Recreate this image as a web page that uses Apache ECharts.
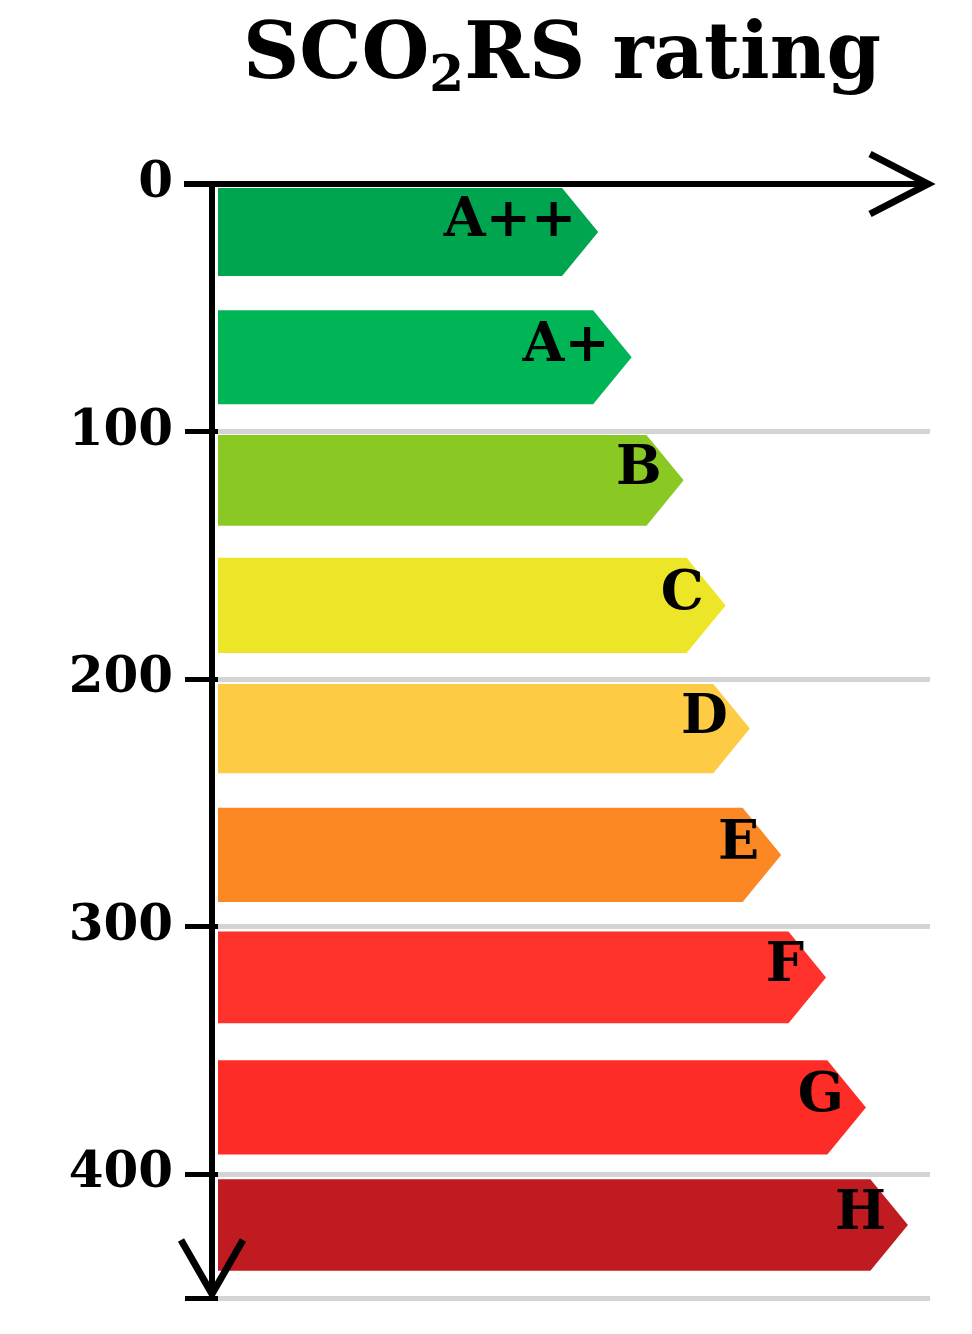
<!DOCTYPE html>
<html>
<head>
<meta charset="utf-8">
<script src="https://cdn.jsdelivr.net/npm/echarts@6/dist/echarts.min.js"></script>
<style>html,body{margin:0;padding:0;background:#fff}#main{width:972px;height:1334px}</style>
</head>
<body>
<div id="main"></div>
<script>
// rating classes, band start/end on the axis and arrow tip length
var classes = ['A++', 'A+', 'B', 'C', 'D', 'E', 'F', 'G', 'H'];
var bandStart = [1.6, 51, 101.4, 151, 202, 252, 302, 354, 402];
var bandEnd = [37.2, 89, 138, 189.5, 238, 290, 339, 392, 439];
var tipValue = [53.4, 58.1, 65.4, 71.3, 74.7, 79.1, 85.4, 91, 96.9];
var colors = ['#00a54f', '#00b556', '#8ac923', '#ede628', '#fecb44', '#fb8823', '#fe312b', '#fe2c26', '#bf1b20'];
var yTicks = [0, 100, 200, 300, 400];
var threshold = 112;

var font = '"DejaVu Serif", "Liberation Serif", serif';
var data = [];
for (var i = 0; i < classes.length; i++) {
    data.push([bandStart[i], bandEnd[i], tipValue[i], i]);
}

var myChart = echarts.init(document.getElementById('main'));
var option = {
    animation: false,
    title: {
        left: 238, top: 8,
        text: '{a|SCO}{s|2}{a|RS rating}',
        textStyle: {
            rich: {
                a: {fontFamily: font, fontWeight: 'bold', fontSize: 78, color: '#000'},
                s: {fontFamily: font, fontWeight: 'bold', fontSize: 50, color: '#000', padding: [40, 0, 0, 0]}
            }
        }
    },
    grid: {left: 218, right: 42, top: 184, bottom: 36},
    xAxis: {
        type: 'value', min: 0, max: 100, position: 'top',
        axisLine: {show: false}, axisTick: {show: false},
        axisLabel: {show: false}, splitLine: {show: false}
    },
    yAxis: {
        type: 'value', inverse: true, min: 0, max: 450, interval: 100,
        axisLine: {show: false},
        axisTick: {show: true, length: 33, lineStyle: {color: '#000', width: 5}},
        axisLabel: {
            fontFamily: font, fontWeight: 'bold', fontSize: 50, color: '#000', margin: 45,
            formatter: function (v) { return yTicks.indexOf(v) >= 0 ? v : ''; }
        },
        splitLine: {
            show: true, lineStyle: {color: '#d4d4d4', width: 5},
            showMinLine: false
        }
    },
    series: [{
        type: 'custom',
        data: data,
        encode: {x: 2, y: [0, 1]},
        renderItem: function (params, api) {
            var x0 = api.coord([0, api.value(0)])[0];
            var yTop = api.coord([0, api.value(0)])[1];
            var yBot = api.coord([0, api.value(1)])[1];
            var xTip = api.coord([api.value(2), 0])[0];
            var half = (yBot - yTop) / 2;
            var depth = half * 0.82;
            var idx = api.value(3);
            return {
                type: 'group',
                children: [{
                    type: 'polygon',
                    shape: {points: [[x0, yTop], [xTip - depth, yTop], [xTip, yTop + half], [xTip - depth, yBot], [x0, yBot]]},
                    style: {fill: colors[idx]}
                }, {
                    type: 'text',
                    style: {
                        text: classes[idx], x: xTip - 22, y: yTop + half - 10,
                        align: 'right', verticalAlign: 'middle',
                        font: 'bold 54px ' + font, fill: '#000'
                    }
                }]
            };
        },
        markLine: {
            silent: true, symbol: 'none', label: {show: false},
            lineStyle: {color: '#000', type: [32, 22], width: 7},
            data: [[{coord: [-4.5, threshold - 1]}, {coord: [100, threshold + 1]}]]
        }
    }],
    graphic: [
        // axes with open arrow heads
        {type: 'line', shape: {x1: 184, y1: 184, x2: 928, y2: 184}, style: {stroke: '#000', lineWidth: 6}, z: 100},
        {type: 'polyline', shape: {points: [[870, 154], [928, 184], [870, 214]]}, style: {stroke: '#000', lineWidth: 7, fill: null}, z: 100},
        {type: 'line', shape: {x1: 212, y1: 184, x2: 212, y2: 1294}, style: {stroke: '#000', lineWidth: 6}, z: 100},
        {type: 'polyline', shape: {points: [[181, 1240], [212, 1294], [243, 1240]]}, style: {stroke: '#000', lineWidth: 7, fill: null}, z: 100}
    ]
};
myChart.setOption(option);
</script>
</body>
</html>
